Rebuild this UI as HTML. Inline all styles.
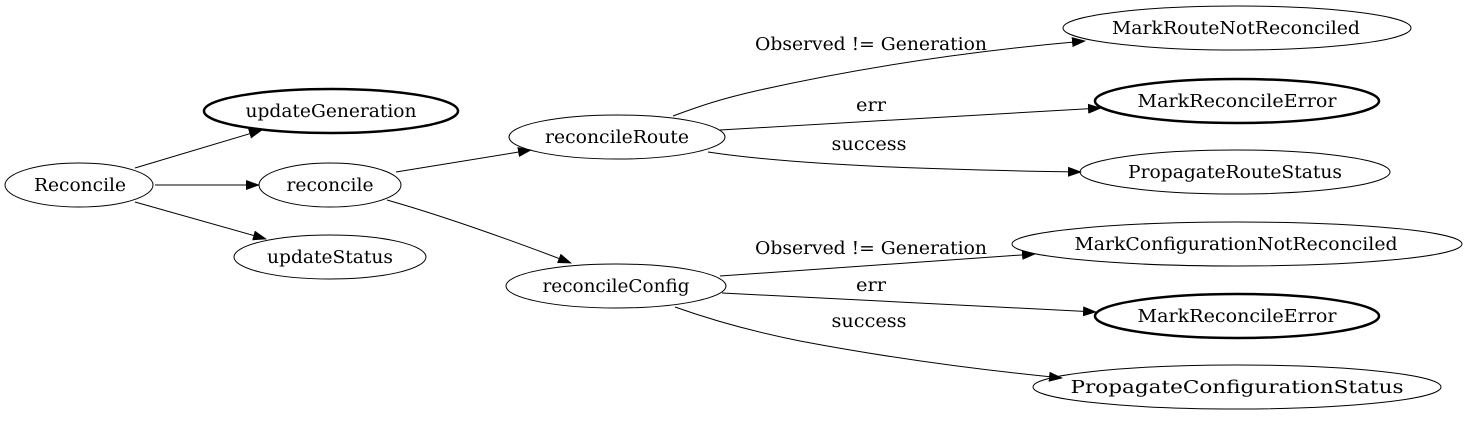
<!DOCTYPE html>
<html><head><meta charset="utf-8"><style>
html,body{margin:0;padding:0;background:#fff;}
svg text{font-family:"DejaVu Serif","Liberation Serif",serif;font-size:17.5px;fill:#000;}
</style></head><body>
<svg width="1467" height="419" viewBox="0 0 1467 419" xmlns="http://www.w3.org/2000/svg">
<defs>
<marker id="a" markerWidth="14" markerHeight="10" refX="13" refY="5" orient="auto" markerUnits="userSpaceOnUse">
<path d="M0,0 L14,5 L0,10 Z" fill="#000"/>
</marker>
</defs>
<g fill="none" stroke="#000" stroke-width="1">
<ellipse cx="79" cy="185" rx="74" ry="22"/>
<ellipse cx="331" cy="111" rx="127" ry="22" stroke-width="2.5"/>
<ellipse cx="330" cy="185" rx="71" ry="22"/>
<ellipse cx="330" cy="257" rx="96" ry="22"/>
<ellipse cx="617" cy="137" rx="108" ry="22"/>
<ellipse cx="616" cy="286" rx="110" ry="22"/>
<ellipse cx="1237" cy="28" rx="174" ry="22"/>
<ellipse cx="1237" cy="101" rx="142" ry="22" stroke-width="2.5"/>
<ellipse cx="1235" cy="172" rx="155" ry="22"/>
<ellipse cx="1237" cy="244" rx="225" ry="22"/>
<ellipse cx="1237" cy="316" rx="142" ry="22" stroke-width="2.5"/>
<ellipse cx="1237" cy="387" rx="204" ry="22"/>

<g marker-end="url(#a)">
<path d="M135,168 L262,130"/>
<path d="M155,185 L259,185"/>
<path d="M135,202 L266,239"/>
<path d="M396,172 L531,150"/>
<path d="M387,200 C440,215 500,236 571,263"/>
<path d="M673,116 C700,106 720,99 760,90 C850,70 960,52 1085,41"/>
<path d="M720,130 L1101,108"/>
<path d="M708,152 C800,166 950,170 1081,172"/>
<path d="M720,276 L1035,254"/>
<path d="M722,293 L1096,312"/>
<path d="M675,307 C720,323 760,333 800,341 C890,358 980,370 1062,378"/>
</g>
</g>
<g text-anchor="middle">
<text x="80" y="191" textLength="92" lengthAdjust="spacingAndGlyphs">Reconcile</text>
<text x="331" y="117" textLength="171" lengthAdjust="spacingAndGlyphs">updateGeneration</text>
<text x="330" y="191" textLength="87" lengthAdjust="spacingAndGlyphs">reconcile</text>
<text x="330" y="263" textLength="126" lengthAdjust="spacingAndGlyphs">updateStatus</text>
<text x="617" y="143" textLength="144" lengthAdjust="spacingAndGlyphs">reconcileRoute</text>
<text x="616" y="292" textLength="147" lengthAdjust="spacingAndGlyphs">reconcileConfig</text>
<text x="1236" y="34" textLength="248" lengthAdjust="spacingAndGlyphs">MarkRouteNotReconciled</text>
<text x="1237" y="107" textLength="199" lengthAdjust="spacingAndGlyphs">MarkReconcileError</text>
<text x="1235" y="178" textLength="214" lengthAdjust="spacingAndGlyphs">PropagateRouteStatus</text>
<text x="1236" y="250" textLength="323" lengthAdjust="spacingAndGlyphs">MarkConfigurationNotReconciled</text>
<text x="1237" y="322" textLength="199" lengthAdjust="spacingAndGlyphs">MarkReconcileError</text>
<text x="1237" y="393" textLength="333" lengthAdjust="spacingAndGlyphs">PropagateConfigurationStatus</text>
<text x="871" y="50" textLength="232" lengthAdjust="spacingAndGlyphs">Observed != Generation</text>
<text x="871" y="111" textLength="30" lengthAdjust="spacingAndGlyphs">err</text>
<text x="869" y="150" textLength="75" lengthAdjust="spacingAndGlyphs">success</text>
<text x="871" y="254" textLength="232" lengthAdjust="spacingAndGlyphs">Observed != Generation</text>
<text x="871" y="291" textLength="30" lengthAdjust="spacingAndGlyphs">err</text>
<text x="869" y="327" textLength="75" lengthAdjust="spacingAndGlyphs">success</text>
</g>
</svg>
</body></html>
